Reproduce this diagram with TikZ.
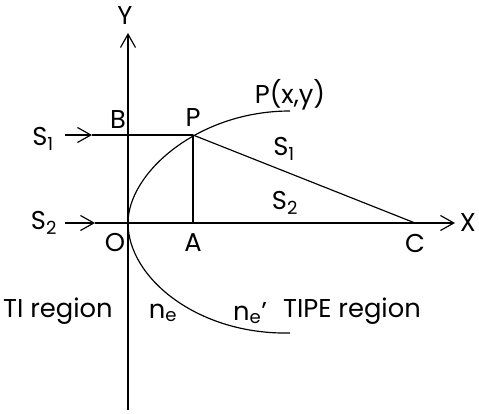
\documentclass[tikz,border=0pt]{standalone}
\usepackage{fontspec}
\setmainfont{Poppins}
\usetikzlibrary{arrows.meta}

\begin{document}
\begin{tikzpicture}[x=0.3mm,y=0.3mm,
    lbl/.style={font=\fontsize{22}{26}\selectfont,inner sep=0pt},
    ray/.style={line width=1pt},
    arr/.style={line width=1pt,-{Straight Barb[length=4mm,width=4.5mm]}}]
  \useasboundingbox (-128,-191) rectangle (351,223);

  % Points
  \coordinate (O) at (0,0);
  \coordinate (A) at (65,0);
  \coordinate (B) at (0,88);
  \coordinate (P) at (65,88);
  \coordinate (C) at (287,0);
  \coordinate (Ytop) at (0,190);
  \coordinate (Ybot) at (0,-187);
  \coordinate (Xtip) at (327,0);
  \coordinate (S1in) at (-63,88);
  \coordinate (S1tip) at (-36,88);
  \coordinate (S2in) at (-63,0);
  \coordinate (S2tip) at (-33,0);
  \coordinate (Pend) at (162,112);
  \coordinate (Nend) at (162,-110);

  % Axes
  \draw[arr] (Ybot) -- (Ytop);
  \draw[arr] (S2tip) -- (Xtip);

  % Incident rays
  \draw[arr] (S1in) -- (S1tip);
  \draw[ray] (S1tip) -- (P);
  \draw[arr] (S2in) -- (S2tip);

  % Boundary curve
  \draw[ray] (O) .. controls (0,50) and (70,112) .. (Pend);
  \draw[ray] (O) .. controls (0,-55) and (70,-112) .. (Nend);

  % Construction lines
  \draw[ray] (P) -- (A);
  \draw[ray] (P) -- (C);

  % Labels
  \node[lbl] (labY) at (-3,207) {Y};
  \node[lbl] (labX) at (340,0) {X};
  \node[lbl] (labO) at (-13,-20) {O};
  \node[lbl] (labA) at (65,-20) {A};
  \node[lbl] (labC) at (287,-20) {C};
  \node[lbl] (labB) at (-10,103) {B};
  \node[lbl] (labP) at (65,105) {P};
  \node[lbl] (labPxy) at (162,128) {P(x,y)};
  \node[lbl] (labS1l) at (-85,84) {S\textsubscript{1}};
  \node[lbl] (labS2l) at (-84,0) {S\textsubscript{2}};
  \node[lbl] (labS1r) at (156,74) {S\textsubscript{1}};
  \node[lbl] (labS2r) at (157,20) {S\textsubscript{2}};
  \node[lbl] (labTI) at (-70,-88) {TI region};
  \node[lbl] (labne) at (35,-90) {n\textsubscript{e}};
  \node[lbl] (labnep) at (122,-90) {n\textsubscript{e}'};
  \node[lbl] (labTIPE) at (224,-88) {TIPE region};
\end{tikzpicture}
\end{document}
